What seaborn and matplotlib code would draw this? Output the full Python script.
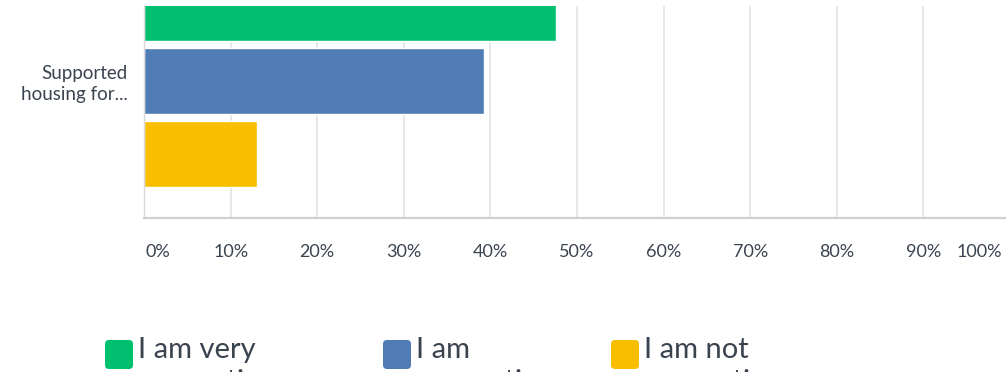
import matplotlib
matplotlib.use("Agg")
import matplotlib.pyplot as plt
import matplotlib.transforms as mtransforms
from matplotlib.patches import FancyBboxPatch
import numpy as np
import pandas as pd
import seaborn as sns

# Survey results: one question, three response levels (share of respondents)
category = ["Supported\nhousing for..."]
responses = ["I am very\nsupportive", "I am\nsupportive", "I am not\nsupportive"]
shares = [0.476, 0.393, 0.131]
colors = ["#00BF6F", "#507CB6", "#F9BE00"]
tick_values = np.linspace(0, 1, 11)
tick_labels = [f"{int(round(v * 100))}%" for v in tick_values]

df = pd.DataFrame({
    "question": category * len(responses),
    "response": responses,
    "share": shares,
})

sns.set_theme(style="white")
plt.rcParams["font.family"] = ["Lato", "DejaVu Sans"]
text_color = "#3a4350"

W, H = 1006, 372
fig = plt.figure(figsize=(W / 100, H / 100), dpi=100)
ax = fig.add_axes([144 / W, 1 - 218 / H, (1010 - 144) / W, (218 - 6) / H])

sns.barplot(
    data=df, x="share", y="question", hue="response",
    hue_order=responses, palette=colors, orient="h",
    width=0.8, gap=0.1, saturation=1, legend=False, ax=ax,
)

ax.set_xlim(0, 1)
ax.set_ylim(0.501, -0.273)
ax.set_xlabel("")
ax.set_ylabel("")

# vertical grid behind the bars
ax.set_axisbelow(True)
ax.set_xticks(tick_values)
ax.xaxis.grid(True, color="#e6e6e6", linewidth=1.3)
ax.yaxis.grid(False)

for side in ["top", "right"]:
    ax.spines[side].set_visible(False)
ax.spines["left"].set_color("#d9d9d9")
ax.spines["left"].set_linewidth(1.0)
ax.spines["bottom"].set_color("#d0d0d0")
ax.spines["bottom"].set_linewidth(1.6)

ax.set_xticklabels(tick_labels)
ax.tick_params(axis="x", length=0, pad=19, labelsize=13, labelcolor=text_color)
ax.tick_params(axis="y", length=0, pad=12, labelsize=13.5, labelcolor=text_color)
for lab in ax.get_yticklabels():
    lab.set_linespacing(1.3)

# keep the end labels inside the figure
xlabels = ax.get_xticklabels()
xlabels[0].set_horizontalalignment("left")
xlabels[0].set_transform(xlabels[0].get_transform() +
                         mtransforms.ScaledTranslation(2 / 100, 0, fig.dpi_scale_trans))
xlabels[-1].set_horizontalalignment("right")
xlabels[-1].set_transform(xlabels[-1].get_transform() +
                          mtransforms.ScaledTranslation(-8 / 100, 0, fig.dpi_scale_trans))

# legend row along the bottom edge; wrapped labels run past the lower edge
legend_x = [105, 383, 611]
for x0, label, color in zip(legend_x, responses, colors):
    sq = FancyBboxPatch(
        (x0 / W, 1 - 369 / H), 28 / W, 29 / H,
        boxstyle="round,pad=0,rounding_size=0.004",
        transform=fig.transFigure, facecolor=color, edgecolor="none",
        mutation_aspect=W / H,
    )
    fig.patches.append(sq)
    fig.text((x0 + 33) / W, 1 - 337 / H, label, fontsize=21,
             color=text_color, ha="left", va="top", linespacing=1.3)

fig.savefig("out.png", dpi=100)
